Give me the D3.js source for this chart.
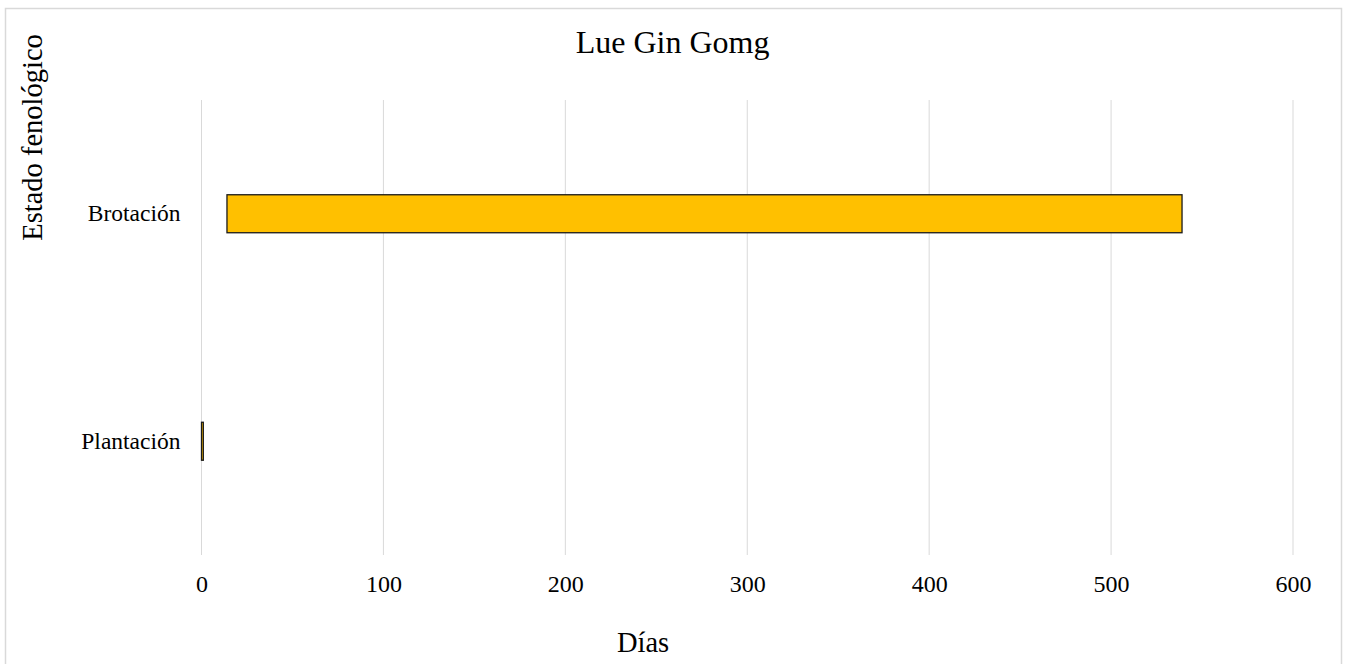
<!DOCTYPE html>
<html>
<head>
<meta charset="utf-8">
<script src="https://cdn.jsdelivr.net/npm/d3@7"></script>
<style>
  html, body { margin: 0; padding: 0; background: #fff; }
  svg { display: block; }
  text { font-family: "Liberation Serif", "Times New Roman", serif; fill: #000; }
</style>
</head>
<body>
<svg id="chart" width="1349" height="664"></svg>
<script>
// Phenological stages (top to bottom) with start day and duration in days
const stages = ["Brotación", "Plantación"];
const startDays = [14, 0];
const durations = [525, 1];
const xTicks = [0, 100, 200, 300, 400, 500, 600];

const W = 1349, H = 664;
const margin = { top: 100, right: 56, bottom: 109, left: 201.5 };
const svg = d3.select("#chart");

// Outer chart frame
svg.append("rect")
  .attr("x", 5.5).attr("y", 8.5)
  .attr("width", 1336).attr("height", 670)
  .attr("fill", "#fff").attr("stroke", "#d9d9d9").attr("stroke-width", 1.5);

const x = d3.scaleLinear().domain([0, 600]).range([margin.left, W - margin.right]);
const y = d3.scaleBand().domain(stages).range([margin.top, H - margin.bottom]).paddingInner(0.833).paddingOuter(0.4165);

// Vertical gridlines
svg.append("g")
  .selectAll("line")
  .data(xTicks)
  .join("line")
  .attr("x1", d => x(d)).attr("x2", d => x(d))
  .attr("y1", margin.top).attr("y2", H - margin.bottom)
  .attr("stroke", "#d9d9d9").attr("stroke-width", 1);

// X axis tick labels
const xAxis = d3.axisBottom(x).tickValues(xTicks).tickSize(0).tickPadding(0);
const gx = svg.append("g")
  .attr("transform", `translate(0,${H - margin.bottom + 37})`)
  .call(xAxis);
gx.select(".domain").remove();
gx.selectAll("text")
  .attr("font-size", 24)
  .attr("font-family", "Liberation Serif, Times New Roman, serif")
  .attr("fill", "#000")
  .attr("dy", 0);

// Y axis category labels
const yAxis = d3.axisLeft(y).tickSize(0).tickPadding(0);
const gy = svg.append("g")
  .attr("transform", `translate(${margin.left - 21},0)`)
  .call(yAxis);
gy.select(".domain").remove();
gy.selectAll("text")
  .attr("font-size", 23.5)
  .attr("font-family", "Liberation Serif, Times New Roman, serif")
  .attr("fill", "#000");

// Duration bars floating from their start day
svg.append("g")
  .selectAll("rect")
  .data(stages.map((s, i) => ({ stage: s, start: startDays[i], dur: durations[i] })))
  .join("rect")
  .attr("x", d => x(d.start))
  .attr("y", d => y(d.stage))
  .attr("width", d => x(d.start + d.dur) - x(d.start))
  .attr("height", y.bandwidth())
  .attr("fill", "#ffc000")
  .attr("stroke", "#1a1a1a")
  .attr("stroke-width", 1.3);

// Titles
svg.append("text")
  .attr("x", 672.5).attr("y", 53)
  .attr("text-anchor", "middle")
  .attr("font-size", 32)
  .text("Lue Gin Gomg");

svg.append("text")
  .attr("transform", "translate(42,137.5) rotate(-90)")
  .attr("text-anchor", "middle")
  .attr("font-size", 28.5)
  .text("Estado fenológico");

svg.append("text")
  .attr("x", 643).attr("y", 652)
  .attr("text-anchor", "middle")
  .attr("font-size", 28.5)
  .text("Días");
</script>
</body>
</html>
